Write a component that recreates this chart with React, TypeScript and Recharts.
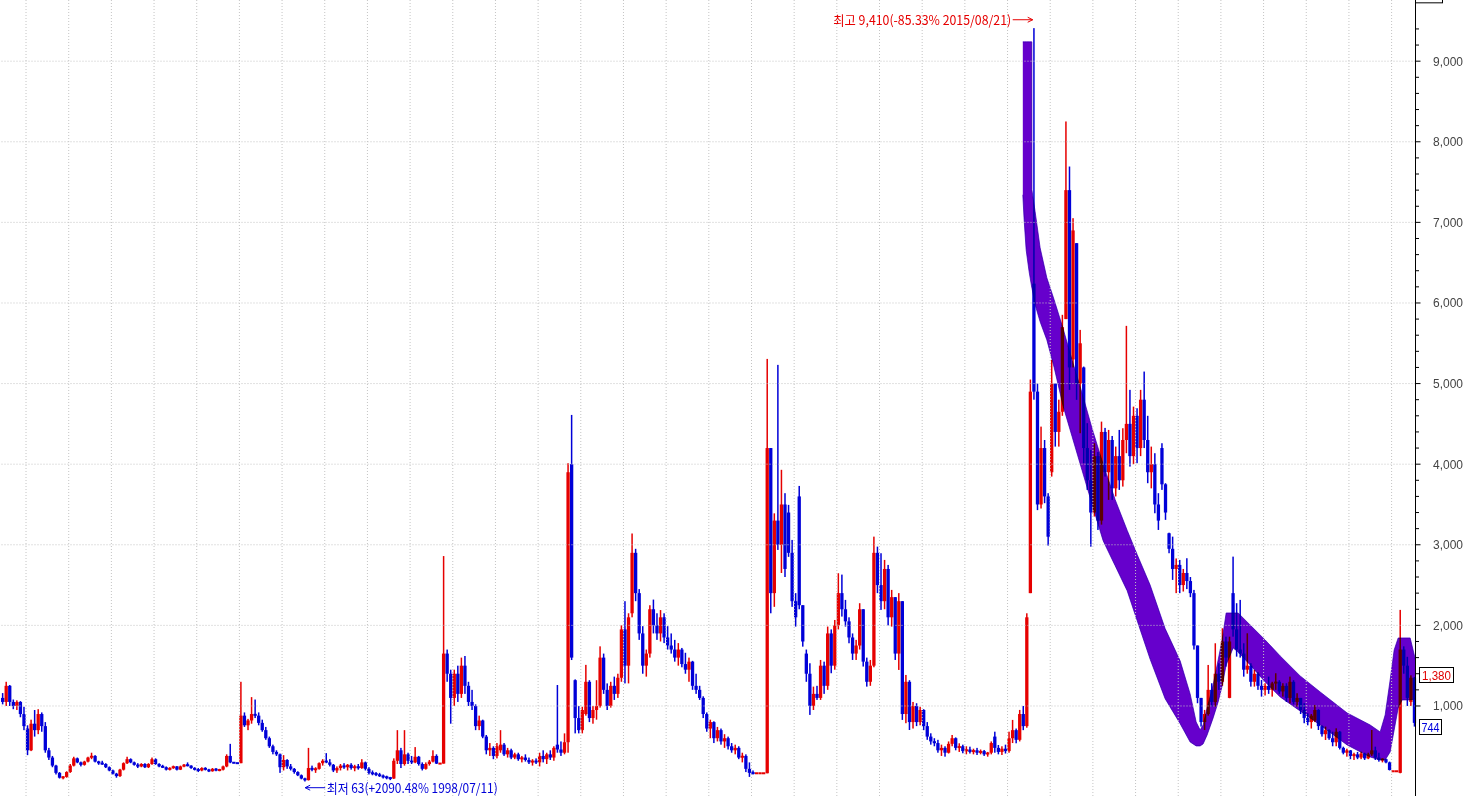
import React from 'react';
import { ComposedChart, Bar, Area, XAxis, YAxis, ReferenceLine, ReferenceDot } from 'recharts';

type C = [number, number, number, number]; // open, high, low, close

const c1991: C[] = [
  [1100, 1160, 1020, 1050], [1050, 1300, 1000, 1250], [1250, 1260, 1000, 1050], [1050, 1080, 960, 1000],
  [1000, 1070, 950, 1050], [1050, 1060, 860, 900], [900, 990, 700, 750],
];
const c1992: C[] = [
  [720, 760, 390, 450], [450, 830, 440, 780], [780, 950, 620, 700], [700, 960, 650, 900],
  [900, 920, 680, 750], [750, 800, 420, 450], [450, 480, 330, 360], [360, 380, 240, 260],
  [260, 270, 150, 170], [170, 180, 100, 110], [110, 130, 90, 120], [120, 190, 110, 180],
];
const c1993: C[] = [
  [180, 280, 170, 260], [260, 370, 250, 350], [350, 360, 290, 300], [300, 310, 250, 270],
  [270, 320, 260, 310], [310, 370, 300, 360], [360, 420, 340, 380], [380, 390, 300, 310],
  [310, 320, 270, 290], [290, 320, 270, 280], [280, 290, 230, 240], [240, 250, 190, 200],
];
const c1994: C[] = [
  [200, 210, 150, 160], [160, 170, 110, 130], [130, 220, 120, 210], [210, 300, 200, 290],
  [290, 370, 280, 340], [340, 350, 290, 300], [300, 310, 260, 270], [270, 290, 230, 250],
  [250, 290, 240, 280], [280, 290, 230, 240], [240, 290, 230, 280], [280, 360, 270, 340],
];
const c1995: C[] = [
  [340, 350, 270, 280], [280, 290, 240, 250], [250, 270, 230, 240], [240, 250, 200, 210],
  [210, 240, 200, 230], [230, 260, 220, 250], [250, 255, 200, 210], [210, 260, 205, 250],
  [250, 280, 240, 270], [270, 300, 250, 260], [260, 265, 220, 230], [230, 240, 200, 210],
];
const c1996: C[] = [
  [210, 230, 180, 200], [200, 240, 190, 230], [230, 240, 200, 210], [210, 220, 180, 190],
  [190, 230, 185, 220], [220, 230, 190, 200], [200, 220, 190, 210], [210, 260, 200, 250],
  [250, 400, 240, 380], [380, 530, 290, 300], [300, 300, 289, 291], [291, 291, 289, 290],
];
const c1997: C[] = [
  [290, 1300, 290, 880], [880, 920, 740, 760], [760, 840, 700, 820], [820, 1110, 780, 900],
  [900, 1080, 850, 880], [880, 920, 760, 790], [790, 830, 680, 700], [700, 740, 580, 600],
  [600, 620, 480, 500], [500, 520, 400, 430], [430, 450, 380, 400], [400, 410, 170, 240],
];
const c1998: C[] = [
  [240, 390, 200, 330], [330, 340, 220, 250], [250, 280, 200, 220], [220, 230, 160, 180],
  [180, 190, 130, 140], [140, 150, 90, 100], [100, 110, 63, 80], [80, 480, 75, 230],
  [230, 260, 190, 210], [210, 240, 170, 220], [220, 300, 210, 290], [290, 340, 260, 320],
];
const c1999: C[] = [
  [320, 415, 290, 300], [300, 340, 250, 270], [270, 280, 180, 200], [200, 250, 170, 230],
  [230, 280, 200, 260], [260, 290, 220, 240], [240, 280, 200, 270], [270, 290, 210, 230],
  [230, 270, 190, 250], [250, 280, 210, 230], [230, 340, 220, 300], [300, 310, 200, 220],
];
const c2000: C[] = [
  [220, 240, 150, 170], [170, 200, 140, 160], [160, 180, 130, 150], [150, 170, 120, 130],
  [130, 150, 100, 120], [120, 135, 90, 110], [110, 120, 80, 100], [100, 350, 95, 320],
  [320, 700, 280, 450], [450, 480, 230, 280], [280, 700, 260, 400], [400, 420, 280, 320],
];
const c2001: C[] = [
  [320, 380, 280, 300], [300, 490, 290, 370], [370, 380, 260, 280], [280, 300, 200, 220],
  [220, 300, 210, 280], [280, 330, 260, 310], [310, 450, 300, 380], [380, 400, 280, 285],
  [285, 286, 284, 285], [285, 2860, 285, 1650], [1650, 1700, 1300, 1400], [1400, 1450, 780, 1100],
];
const c2002: C[] = [
  [1100, 1450, 1000, 1400], [1400, 1500, 1050, 1150], [1150, 1600, 1100, 1500], [1500, 1620, 1150, 1250],
  [1250, 1300, 1000, 1050], [1050, 1200, 950, 1000], [1000, 1020, 700, 750], [750, 880, 700, 820],
  [820, 830, 600, 620], [620, 640, 400, 450], [450, 540, 380, 480], [480, 500, 340, 380],
];
const c2003: C[] = [
  [380, 540, 350, 500], [450, 700, 420, 520], [520, 540, 380, 400], [400, 480, 360, 450],
  [450, 470, 340, 360], [360, 420, 340, 400], [400, 420, 320, 340], [340, 380, 300, 360],
  [360, 400, 310, 330], [330, 360, 280, 300], [300, 340, 260, 320], [320, 350, 280, 300],
];
const c2004: C[] = [
  [300, 420, 250, 380], [380, 450, 300, 340], [340, 420, 280, 400], [400, 450, 330, 360],
  [360, 500, 320, 480], [520, 1260, 420, 460], [460, 560, 380, 420], [420, 660, 400, 550],
  [550, 4012, 420, 3900], [4000, 4611, 1570, 1600], [1320, 1330, 660, 850], [850, 1000, 660, 700],
];
const c2005: C[] = [
  [700, 990, 660, 950], [900, 1510, 880, 1300], [1300, 1320, 800, 850], [850, 1000, 780, 950],
  [950, 1320, 830, 1000], [1000, 1740, 980, 1600], [1600, 1650, 1150, 1200], [1200, 1280, 950, 1000],
  [1000, 1300, 980, 1250], [1250, 1364, 1075, 1150], [1150, 1400, 1100, 1350], [1350, 2000, 1300, 1950],
];
const c2006: C[] = [
  [1950, 2300, 1280, 1500], [1500, 2150, 1280, 2100], [2150, 3140, 2100, 2900], [2900, 2950, 2300, 2400],
  [2400, 2450, 1820, 1900], [1900, 1990, 1400, 1500], [1500, 1700, 1364, 1650], [1650, 2250, 1600, 2200],
  [2200, 2320, 1900, 2000], [2000, 2150, 1820, 1900], [1900, 2190, 1800, 2100], [2100, 2150, 1780, 1850],
];
const c2007: C[] = [
  [1850, 1990, 1700, 1750], [1750, 1900, 1650, 1700], [1700, 1820, 1550, 1600], [1600, 1780, 1500, 1700],
  [1700, 1720, 1480, 1520], [1520, 1660, 1400, 1450], [1450, 1600, 1300, 1550], [1550, 1560, 1200, 1250],
  [1250, 1400, 1150, 1200], [1200, 1250, 1075, 1100], [1100, 1120, 850, 900], [900, 920, 680, 720],
];
const c2008: C[] = [
  [720, 830, 600, 800], [800, 810, 540, 600], [600, 740, 560, 700], [700, 720, 520, 560],
  [560, 650, 480, 600], [600, 620, 460, 500], [500, 540, 420, 450], [450, 520, 400, 480],
  [480, 500, 340, 360], [360, 420, 300, 380], [380, 400, 180, 220], [220, 300, 120, 170],
];
const c2009: C[] = [
  [170, 200, 150, 165], [165, 166, 164, 165], [165, 166, 164, 165], [165, 166, 164, 165],
  [165, 5306, 165, 4200], [4200, 4200, 2150, 2400], [2400, 3390, 2230, 3300], [3300, 5232, 2936, 3000],
  [3000, 3930, 2650, 3500], [3500, 3640, 2600, 2700], [3400, 3495, 2850, 2900], [2900, 3060, 2230, 2300],
];
const c2010: C[] = [
  [2300, 2400, 1985, 2100], [3600, 3730, 2200, 2250], [2250, 2250, 1736, 1800], [1650, 1700, 1300, 1400],
  [1400, 1530, 889, 1000], [1000, 1240, 950, 1150], [1150, 1250, 1075, 1100], [1100, 1571, 1075, 1500],
  [1500, 1550, 1150, 1250], [1250, 1985, 1200, 1900], [1900, 1950, 1406, 1500], [1500, 2067, 1450, 2000],
];
const c2011: C[] = [
  [2000, 2647, 1950, 2400], [2400, 2630, 2109, 2200], [2200, 2316, 1985, 2050], [2050, 2100, 1778, 1850],
  [1850, 1900, 1571, 1650], [1650, 1820, 1571, 1750], [1750, 2275, 1700, 2200], [2200, 2200, 1489, 1550],
  [1550, 1600, 1240, 1300], [1300, 1571, 1250, 1500], [1500, 3101, 1480, 2900], [2900, 2977, 2400, 2500],
];
const c2012: C[] = [
  [2500, 2895, 2192, 2300], [2300, 2812, 2200, 2700], [2700, 2750, 2000, 2100], [2100, 2440, 1985, 2350],
  [2350, 2350, 1571, 1650], [1650, 2400, 1447, 2300], [2300, 2300, 827, 900], [900, 1385, 786, 1300],
  [1300, 1320, 702, 800], [800, 1050, 720, 1000], [1000, 1034, 750, 800], [800, 990, 760, 950],
];
const c2013: C[] = [
  [950, 960, 700, 750], [750, 800, 580, 620], [620, 661, 520, 560], [560, 600, 500, 540],
  [540, 580, 420, 450], [450, 520, 380, 480], [480, 500, 371, 420], [420, 560, 410, 530],
  [530, 640, 500, 600], [600, 610, 450, 480], [480, 537, 430, 500], [500, 520, 413, 440],
];
const c2014: C[] = [
  [440, 500, 400, 460], [460, 495, 410, 430], [430, 470, 400, 450], [450, 480, 392, 420],
  [420, 460, 400, 440], [440, 454, 380, 400], [400, 430, 371, 420], [420, 560, 400, 540],
  [620, 681, 420, 480], [480, 516, 400, 430], [430, 500, 392, 470], [470, 520, 410, 440],
];
const c2015: C[] = [
  [440, 681, 420, 600], [600, 827, 540, 700], [700, 720, 537, 580], [580, 951, 560, 900],
  [900, 1000, 700, 750], [750, 2150, 730, 2100], [2400, 5050, 2400, 4900], [6240, 9410, 4800, 4900],
  [4900, 5000, 3430, 3500], [3500, 4466, 3450, 4200], [4200, 4300, 3516, 3600], [3600, 3640, 2990, 3100],
];
const c2016: C[] = [
  [3900, 5294, 3846, 5000], [5000, 5000, 4218, 4400], [4400, 4800, 4218, 4650], [4650, 5853, 4600, 5700],
  [5800, 8252, 5800, 7400], [7400, 7693, 4922, 5200], [5300, 7052, 5200, 6900], [6742, 6742, 4798, 5000],
  [5000, 5666, 4384, 5500], [5200, 5211, 4012, 4200], [4200, 4509, 3681, 3800], [3800, 4177, 2977, 3400],
];
const c2017: C[] = [
  [3400, 4260, 3350, 4100], [4100, 4150, 3184, 3300], [3300, 4528, 3250, 4400], [4400, 4450, 3846, 3900],
  [3900, 4425, 3557, 4300], [4300, 4350, 3557, 3700], [3700, 4218, 3600, 4100], [4100, 4425, 3681, 3800],
  [3800, 4446, 3722, 4300], [4300, 5716, 4136, 4500], [4500, 4922, 3970, 4100], [4100, 4714, 4000, 4600],
];
const c2018: C[] = [
  [4600, 4694, 4012, 4200], [4200, 4922, 4100, 4800], [4800, 5149, 4200, 4300], [4300, 4600, 3764, 3900],
  [3900, 4218, 3700, 4000], [4000, 4136, 3391, 3500], [3500, 3640, 3184, 3300], [4200, 4260, 3681, 3750],
  [3750, 3764, 3309, 3400], [3143, 3150, 2895, 2950], [2950, 3101, 2564, 2700], [2700, 2830, 2400, 2750],
];
const c2019: C[] = [
  [2750, 2812, 2400, 2500], [2500, 2700, 2420, 2650], [2650, 2833, 2450, 2550], [2550, 2600, 2350, 2400],
  [2400, 2440, 1700, 1750], [1750, 1750, 1034, 1100], [1100, 1100, 744, 800], [800, 951, 702, 900],
  [900, 1509, 880, 1200], [1200, 1282, 992, 1050], [1050, 1778, 992, 1400], [1400, 1530, 1199, 1300],
];
const c2020: C[] = [
  [1300, 1964, 1250, 1800], [1800, 1860, 1488, 1600], [1100, 1860, 1096, 1800], [2400, 2853, 1860, 1950],
  [1950, 2275, 1612, 1700], [1700, 2316, 1600, 1650], [1650, 1778, 1364, 1450], [1450, 1902, 1400, 1500],
  [1500, 1530, 1240, 1300], [1300, 1447, 1240, 1400], [1400, 1420, 1200, 1250], [1250, 1323, 1116, 1200],
];
const c2021: C[] = [
  [1200, 1282, 1130, 1250], [1250, 1364, 1150, 1200], [1200, 1300, 1116, 1280], [1280, 1406, 1200, 1300],
  [1300, 1320, 1150, 1180], [1180, 1282, 1116, 1250], [1250, 1282, 1050, 1100], [1100, 1364, 1034, 1300],
  [1300, 1320, 1020, 1050], [1050, 1158, 992, 1100], [1100, 1100, 900, 950], [950, 1034, 786, 850],
];
const c2022: C[] = [
  [850, 910, 760, 800], [800, 900, 720, 880], [820, 1013, 800, 950], [950, 960, 702, 750],
  [750, 760, 620, 650], [650, 744, 578, 700], [700, 710, 580, 600], [600, 681, 500, 550],
  [550, 723, 500, 680], [680, 690, 460, 480], [480, 495, 400, 420], [420, 470, 371, 450],
];
const c2023: C[] = [
  [450, 454, 340, 380], [380, 420, 330, 400], [400, 430, 340, 360], [360, 433, 340, 410],
  [410, 420, 330, 350], [350, 420, 340, 400], [400, 702, 380, 450], [450, 495, 330, 360],
  [360, 420, 309, 330], [330, 351, 300, 340], [340, 345, 289, 300], [300, 310, 200, 206],
];
const c2024: C[] = [
  [190, 191, 189, 190], [190, 191, 189, 190], [170, 2192, 165, 1700], [1700, 1740, 1400, 1500],
  [1500, 1610, 1000, 1100], [1050, 1380, 1000, 1350], [1350, 1360, 744, 790],
];

const yearBlocks: { year: number; firstMonth: number; rows: C[] }[] = [
  { year: 1991, firstMonth: 6, rows: c1991 }, { year: 1992, firstMonth: 1, rows: c1992 },
  { year: 1993, firstMonth: 1, rows: c1993 }, { year: 1994, firstMonth: 1, rows: c1994 },
  { year: 1995, firstMonth: 1, rows: c1995 }, { year: 1996, firstMonth: 1, rows: c1996 },
  { year: 1997, firstMonth: 1, rows: c1997 }, { year: 1998, firstMonth: 1, rows: c1998 },
  { year: 1999, firstMonth: 1, rows: c1999 }, { year: 2000, firstMonth: 1, rows: c2000 },
  { year: 2001, firstMonth: 1, rows: c2001 }, { year: 2002, firstMonth: 1, rows: c2002 },
  { year: 2003, firstMonth: 1, rows: c2003 }, { year: 2004, firstMonth: 1, rows: c2004 },
  { year: 2005, firstMonth: 1, rows: c2005 }, { year: 2006, firstMonth: 1, rows: c2006 },
  { year: 2007, firstMonth: 1, rows: c2007 }, { year: 2008, firstMonth: 1, rows: c2008 },
  { year: 2009, firstMonth: 1, rows: c2009 }, { year: 2010, firstMonth: 1, rows: c2010 },
  { year: 2011, firstMonth: 1, rows: c2011 }, { year: 2012, firstMonth: 1, rows: c2012 },
  { year: 2013, firstMonth: 1, rows: c2013 }, { year: 2014, firstMonth: 1, rows: c2014 },
  { year: 2015, firstMonth: 1, rows: c2015 }, { year: 2016, firstMonth: 1, rows: c2016 },
  { year: 2017, firstMonth: 1, rows: c2017 }, { year: 2018, firstMonth: 1, rows: c2018 },
  { year: 2019, firstMonth: 1, rows: c2019 }, { year: 2020, firstMonth: 1, rows: c2020 },
  { year: 2021, firstMonth: 1, rows: c2021 }, { year: 2022, firstMonth: 1, rows: c2022 },
  { year: 2023, firstMonth: 1, rows: c2023 }, { year: 2024, firstMonth: 1, rows: c2024 },
];

// hand-drawn purple highlighter stroke: time (years), lower and upper edges (price)
const bandT = [2015.358, 2015.389, 2015.436, 2015.506, 2015.569, 2015.571, 2015.647, 2015.764, 2015.921,
  2016.092, 2016.303, 2016.514, 2016.748, 2016.983, 2017.24, 2017.522, 2017.803, 2018.037, 2018.342,
  2018.693, 2019.045, 2019.279, 2019.42, 2019.513, 2019.583, 2019.677, 2019.818, 2019.935, 2020.029,
  2020.123, 2020.287, 2020.404, 2020.685, 2021.037, 2021.388, 2021.857, 2022.326, 2022.958, 2023.498,
  2023.732, 2023.849, 2023.966, 2024.06, 2024.154, 2024.247, 2024.435, 2024.56];
const bandLow = [7342, 7031, 6659, 6386, 6188, 6188, 5977, 5766, 5542, 5200, 4720, 4340, 3920, 3500, 3050,
  2740, 2430, 2060, 1580, 1090, 780, 553, 504, 504, 529, 640, 851, 1050, 1248, 1509, 1720, 1670, 1509,
  1298, 1112, 938, 764, 516, 367, 330, 330, 429, 702, 975, 1075, 1075, 1087];
const bandHigh = [9240, 9240, 9240, 9240, 9240, 7404, 7131, 6684, 6312, 6040, 5680, 5290, 4880, 4440, 4000,
  3560, 3180, 2880, 2500, 1960, 1560, 1150, 802, 702, 764, 975, 1261, 1571, 1819, 2154, 2154, 2154, 2005,
  1819, 1621, 1373, 1174, 913, 764, 678, 889, 1323, 1695, 1844, 1844, 1844, 1571];

const axisTicks = [1000, 1200, 1400, 1600, 1800, 2000, 2200, 2400, 2600, 2800, 3000, 3200, 3400, 3600, 3800,
  4000, 4200, 4400, 4600, 4800, 5000, 5200, 5400, 5600, 5800, 6000, 6200, 6400, 6600, 6800, 7000, 7200,
  7400, 7600, 7800, 8000, 8200, 8400, 8600, 8800, 9000, 9200, 9400];
const gridValues = [1000, 2000, 3000, 4000, 5000, 6000, 7000, 8000, 9000];
const gridYears = [1992, 1993, 1994, 1995, 1996, 1997, 1998, 1999, 2000, 2001, 2002, 2003, 2004, 2005, 2006,
  2007, 2008, 2009, 2010, 2011, 2012, 2013, 2014, 2015, 2016, 2017, 2018, 2019, 2020, 2021, 2022, 2023, 2024];

const highNote = { t: 2015.625, v: 9514, text: '최고 9,410(-85.33% 2015/08/21)' };
const lowNote = { t: 1998.5417, v: -14, text: '최저 63(+2090.48% 1998/07/11)' };
const priceTags = [
  { v: 1380, text: '1,380', color: '#e00000', w: 34, tl: 29 },
  { v: 744, text: '744', color: '#0000dd', w: 22, tl: 18 },
];

const X_MIN = 1991.39;
const X_MAX = 2024.56;
const Y_MIN = -117;
const Y_MAX = 9759;
const RED = '#e60000';
const BLUE = '#0000d8';
const BODY = 3.3;
const WICK = 1.5;
const NOTE_FONT = "'Noto Sans CJK KR', 'Noto Sans', sans-serif";
const NUM_FONT = "'Liberation Sans', Arial, sans-serif";

const candles = yearBlocks.flatMap((b) =>
  b.rows.map(([o, h, l, c], i) => ({
    t: b.year + (b.firstMonth - 1 + i + 0.5) / 12,
    o, h, l, c,
    range: [Math.min(l, o, c), Math.max(h, o, c)],
  }))
);
const bandData = bandT.map((t, i) => ({ t, band: [bandLow[i], bandHigh[i]] }));

const CandleShape = (props: any) => {
  const { x, y, width, height, payload } = props;
  if (x == null || y == null || !payload) return null;
  const { o, h, l, c } = payload;
  const lo = Math.min(l, o, c);
  const hi = Math.max(h, o, c);
  const top = Math.min(y, y + height);
  const hgt = Math.abs(height);
  const cx = x + width / 2;
  const per = hi > lo ? hgt / (hi - lo) : 0;
  const toY = (v: number) => top + (hi - v) * per;
  const color = c >= o ? RED : BLUE;
  let bTop = toY(Math.max(o, c));
  let bBot = toY(Math.min(o, c));
  if (bBot - bTop < 2) {
    const m = (bTop + bBot) / 2;
    bTop = m - 1;
    bBot = m + 1;
  }
  return (
    <g style={{ mixBlendMode: 'multiply' }}>
      <rect x={cx - WICK / 2} y={top} width={WICK} height={Math.max(hgt, 0.5)} fill={color} />
      <rect x={cx - BODY / 2} y={bTop} width={BODY} height={bBot - bTop} fill={color} />
    </g>
  );
};

const AxisTick = (props: any) => {
  const { x, y, payload } = props;
  const v = payload.value as number;
  const major = v % 1000 === 0;
  return (
    <g>
      <line x1={x} y1={y} x2={x + (major ? 5 : 3.5)} y2={y} stroke="#000" strokeWidth={1} />
      {major && (
        <text x={x + 17.5} y={y + 4.5} fill="#444" fontSize={13} fontFamily={NUM_FONT}
          textLength={30} lengthAdjust="spacingAndGlyphs">
          {v.toLocaleString('en-US')}
        </text>
      )}
    </g>
  );
};

const HighShape = (p: any) => {
  const tip = p.cx - 1.5;
  const cy = p.cy;
  return (
    <g>
      <line x1={tip - 20} y1={cy} x2={tip} y2={cy} stroke={RED} strokeWidth={1} />
      <polyline points={`${tip - 5},${cy - 2.5} ${tip},${cy} ${tip - 5},${cy + 2.5}`} fill="none" stroke={RED} strokeWidth={1} />
      <text x={tip - 21.5} y={cy + 5} textAnchor="end" fill={RED} fontSize={13} fontFamily={NOTE_FONT}
        textLength={178} lengthAdjust="spacingAndGlyphs">{highNote.text}</text>
    </g>
  );
};

const LowShape = (p: any) => {
  const tip = p.cx;
  const cy = p.cy;
  return (
    <g>
      <line x1={tip} y1={cy} x2={tip + 20} y2={cy} stroke={BLUE} strokeWidth={1} />
      <polyline points={`${tip + 5},${cy - 2.5} ${tip},${cy} ${tip + 5},${cy + 2.5}`} fill="none" stroke={BLUE} strokeWidth={1} />
      <text x={tip + 21.5} y={cy + 5} textAnchor="start" fill={BLUE} fontSize={13} fontFamily={NOTE_FONT}
        textLength={171} lengthAdjust="spacingAndGlyphs">{lowNote.text}</text>
    </g>
  );
};

const makeTagShape = (tag: { text: string; color: string; w: number; tl: number }) => (p: any) => {
  const x0 = Math.round(p.cx) + 3.5;
  const cy = p.cy;
  return (
    <g>
      <rect x={x0} y={Math.round(cy) - 7.5} width={tag.w} height={15} fill="#fff" stroke="#000" strokeWidth={1} />
      <text x={x0 + tag.w / 2} y={cy + 5} textAnchor="middle" fill={tag.color} fontSize={13} fontFamily={NUM_FONT}
        textLength={tag.tl} lengthAdjust="spacingAndGlyphs">{tag.text}</text>
    </g>
  );
};

const TopBoxShape = (p: any) => (
  <rect x={Math.round(p.cx) - 0.5} y={p.cy - 18} width={27} height={18} fill="#fff" stroke="#000" strokeWidth={1} />
);

export default function App() {
  return (
    <div style={{ position: 'absolute', left: 0, top: 0, width: 1473, height: 796, background: '#fff', overflow: 'hidden' }}>
      <style>{`.band-area path { mix-blend-mode: multiply; }`}</style>
      <ComposedChart width={1473} height={796} data={candles} margin={{ top: 0, right: 0, bottom: 0, left: 0 }}>
        <XAxis xAxisId="main" dataKey="t" type="number" domain={[X_MIN, X_MAX]} hide />
        <XAxis xAxisId="band" dataKey="t" type="number" domain={[X_MIN, X_MAX]} hide />
        <YAxis
          orientation="right"
          width={57.5}
          type="number"
          domain={[Y_MIN, Y_MAX]}
          ticks={axisTicks}
          interval={0}
          tick={(p: any) => <AxisTick {...p} />}
          tickLine={false}
          tickSize={0}
          tickMargin={0}
          axisLine={{ stroke: '#000', strokeWidth: 1 }}
        />
        {gridValues.map((v) => (
          <ReferenceLine key={'h' + v} xAxisId="main" y={v} stroke="#c4c4c4" strokeDasharray="1 2" />
        ))}
        {gridYears.map((yr) => (
          <ReferenceLine key={'v' + yr} xAxisId="main" x={yr} stroke="#c4c4c4" strokeDasharray="1 2" />
        ))}
        <Bar xAxisId="main" dataKey="range" barSize={3} shape={CandleShape} isAnimationActive={false} />
        <Area
          xAxisId="band"
          data={bandData}
          dataKey="band"
          type="linear"
          fill="#6600cc"
          fillOpacity={1}
          stroke="#7b3fd6"
          strokeWidth={1}
          className="band-area"
          dot={false}
          activeDot={false}
          isAnimationActive={false}
        />
        <ReferenceDot xAxisId="main" x={highNote.t} y={highNote.v} r={1} ifOverflow="visible" shape={HighShape} />
        <ReferenceDot xAxisId="main" x={lowNote.t} y={lowNote.v} r={1} ifOverflow="visible" shape={LowShape} />
        {priceTags.map((tag) => (
          <ReferenceDot key={tag.text} xAxisId="main" x={X_MAX} y={tag.v} r={1} ifOverflow="visible" shape={makeTagShape(tag)} />
        ))}
        <ReferenceDot xAxisId="main" x={X_MAX} y={9724} r={1} ifOverflow="visible" shape={TopBoxShape} />
      </ComposedChart>
    </div>
  );
}
